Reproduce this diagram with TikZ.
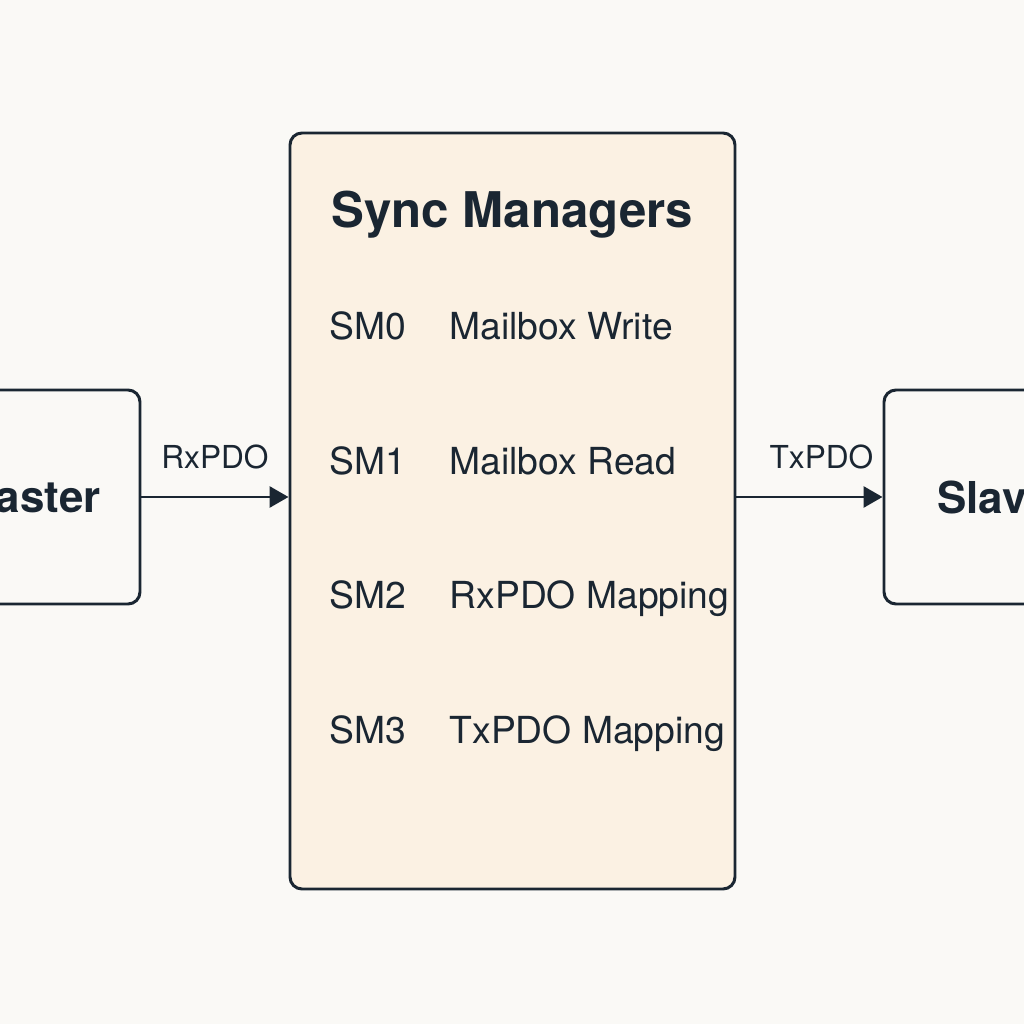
\documentclass[tikz,border=0pt]{standalone}
\usepackage{xcolor}
\usepackage{fontspec}
\setmainfont{TeX Gyre Heros}
\usepackage{tikz}
\usetikzlibrary{arrows.meta}
\definecolor{ink}{HTML}{1A2632}
\definecolor{paper}{HTML}{FAF9F6}
\definecolor{cream}{HTML}{FBF1E3}

\begin{document}
\begin{tikzpicture}[
  box/.style={draw=ink, line width=0.85pt, rounded corners=0.12cm},
  flow/.style={draw=ink, line width=0.85pt, -{Triangle[length=0.19cm,width=0.21cm]}},
  smname/.style={anchor=base west, text=ink, inner sep=0pt, font=\fontsize{10.6}{12}\selectfont},
  flowlabel/.style={above=1.5mm, text=ink, font=\fontsize{9}{11}\selectfont}
]
\useasboundingbox (0,0) rectangle (10.24,10.24);
\fill[paper] (0,0) rectangle (10.24,10.24);
\clip (0,0) rectangle (10.24,10.24);
\node[box, fill=paper, minimum width=2.2cm, minimum height=2.14cm, text=ink, font=\bfseries\fontsize{12.5}{14}\selectfont] (master) at (0.30,5.27) {Master};
\node[box, fill=paper, minimum width=2.2cm, minimum height=2.14cm, text=ink, font=\bfseries\fontsize{12.5}{14}\selectfont] (slave) at (9.94,5.27) {Slave};
\node[box, fill=cream, minimum width=4.45cm, minimum height=7.56cm] (sm) at (5.125,5.13) {};
\node[anchor=base, inner sep=0pt, text=ink, font=\bfseries\fontsize{14}{16}\selectfont] (title) at (5.125,7.96) {Sync Managers};
% the four sync managers
\node[smname] (sm0) at (3.29,6.84) {SM0};
\node[smname] (sm0txt) at (4.49,6.84) {Mailbox Write};
\node[smname] (sm1) at (3.29,5.49) {SM1};
\node[smname] (sm1txt) at (4.49,5.49) {Mailbox Read};
\node[smname] (sm2) at (3.29,4.15) {SM2};
\node[smname] (sm2txt) at (4.49,4.15) {RxPDO Mapping};
\node[smname] (sm3) at (3.29,2.81) {SM3};
\node[smname] (sm3txt) at (4.49,2.81) {TxPDO Mapping};
% process data
\draw[flow] (master.east) -- node[flowlabel]{RxPDO} (master.east -| sm.west);
\draw[flow] (slave.west -| sm.east) -- node[flowlabel, xshift=1.2mm]{TxPDO} (slave.west);
\end{tikzpicture}
\end{document}
